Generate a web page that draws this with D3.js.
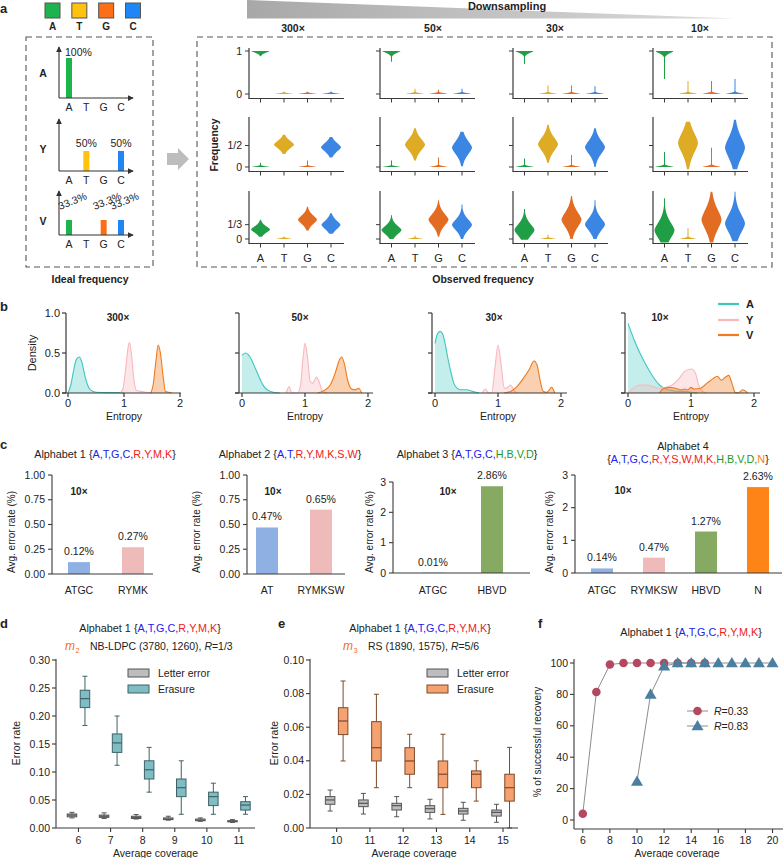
<!DOCTYPE html>
<html lang="en">
<head>
<meta charset="UTF-8">
<title>Degenerate base frequencies and error rates</title>
<script src="https://d3js.org/d3.v7.min.js"></script>
<style>
  body { margin: 0; background: #fff; }
  svg { display: block; font-family: "Liberation Sans", Arial, Helvetica, sans-serif; }
</style>
</head>
<body>
<svg id="fig" width="784" height="858"></svg>
<script>
// ---------------- data: panel a
const bases = ["A", "T", "G", "C"];
const coverages = ["300×", "50×", "30×", "10×"];
const idealRows = ["A", "Y", "V"];
const idealFreq = [[100, 0, 0, 0], [0, 50, 0, 50], [33.3, 0, 33.3, 33.3]];
const rowTickVals = [[0, 1], [0, 0.5], [0, 1 / 3]];
const rowTickText = [["0", "1"], ["0", "1/2"], ["0", "1/3"]];
// violin summaries per coverage, per base: [centre, spread, width, low, high]
const violinRowA = [
  [[1, 0.04, 0.9, 0.88, 1], [0, 0.015, 0.9, 0, 0.06], [0, 0.015, 0.9, 0, 0.05], [0, 0.015, 0.9, 0, 0.06]],
  [[1, 0.045, 0.9, 0.75, 1], [0, 0.018, 0.9, 0, 0.12], [0, 0.018, 0.9, 0, 0.1], [0, 0.018, 0.9, 0, 0.12]],
  [[1, 0.045, 0.9, 0.7, 1], [0, 0.018, 0.9, 0, 0.2], [0, 0.018, 0.9, 0, 0.2], [0, 0.018, 0.9, 0, 0.18]],
  [[1, 0.05, 0.9, 0.35, 1], [0, 0.02, 0.9, 0, 0.3], [0, 0.02, 0.9, 0, 0.3], [0, 0.02, 0.9, 0, 0.35]]
];
const violinRowY = [
  [[0, 0.015, 0.9, 0, 0.1], [0.52, 0.09, 1, 0.3, 0.75], [0, 0.015, 0.9, 0, 0.15], [0.46, 0.1, 1, 0.22, 0.7]],
  [[0, 0.015, 0.9, 0, 0.15], [0.52, 0.14, 1, 0.15, 0.9], [0, 0.018, 0.9, 0, 0.22], [0.45, 0.16, 1, 0.02, 0.82]],
  [[0, 0.018, 0.9, 0, 0.2], [0.53, 0.16, 1, 0.1, 0.98], [0, 0.018, 0.9, 0, 0.28], [0.46, 0.16, 1, 0, 0.9]],
  [[0, 0.02, 0.9, 0, 0.35], [0.56, 0.24, 1, -0.05, 1.05], [0, 0.02, 0.9, 0, 0.45], [0.45, 0.25, 1, -0.05, 1.1]]
];
const violinRowV = [
  [[0.22, 0.075, 0.95, 0.05, 0.45], [0, 0.015, 0.8, 0, 0.06], [0.45, 0.1, 0.95, 0.2, 0.75], [0.33, 0.1, 0.95, 0.12, 0.6]],
  [[0.21, 0.1, 1, 0, 0.55], [0, 0.015, 0.8, 0, 0.08], [0.45, 0.14, 1, 0.05, 0.9], [0.33, 0.13, 1, 0, 0.8]],
  [[0.21, 0.14, 1, -0.02, 0.7], [0, 0.015, 0.8, 0, 0.1], [0.45, 0.18, 1, 0, 1.0], [0.34, 0.15, 1, 0, 0.9]],
  [[0.2, 0.19, 1, -0.08, 0.95], [0, 0.02, 0.8, 0, 0.25], [0.45, 0.24, 1, -0.08, 1.1], [0.36, 0.22, 1, -0.05, 1.1]]
];

// ---------------- data: panel b  (entropy, density) for A, Y, V
const dens300 = [
  [[0, 0], [0.05, 0.1], [0.1, 0.28], [0.15, 0.42], [0.2, 0.45], [0.25, 0.38], [0.3, 0.22], [0.35, 0.1], [0.4, 0.04], [0.5, 0.01], [0.7, 0.005], [0.9, 0.005], [1.0, 0]],
  [[0.93, 0], [0.98, 0.05], [1.03, 0.3], [1.08, 0.6], [1.1, 0.63], [1.13, 0.5], [1.18, 0.15], [1.22, 0.03], [1.3, 0.02], [1.4, 0.01], [1.5, 0]],
  [[1.48, 0], [1.52, 0.1], [1.57, 0.4], [1.61, 0.6], [1.65, 0.5], [1.7, 0.2], [1.74, 0.02], [1.8, 0.01], [1.85, 0]]
];
const dens50 = [
  [[0, 0.47], [0.05, 0.5], [0.1, 0.48], [0.15, 0.42], [0.2, 0.33], [0.25, 0.24], [0.3, 0.15], [0.35, 0.08], [0.4, 0.04], [0.5, 0.01], [0.6, 0]],
  [[0.7, 0], [0.75, 0.08], [0.79, 0], [0.88, 0], [0.93, 0.1], [0.97, 0.45], [1.0, 0.62], [1.04, 0.45], [1.08, 0.15], [1.12, 0.12], [1.18, 0.2], [1.22, 0.15], [1.28, 0.02], [1.35, 0]],
  [[1.2, 0], [1.3, 0.03], [1.4, 0.1], [1.48, 0.25], [1.54, 0.4], [1.58, 0.45], [1.62, 0.38], [1.68, 0.15], [1.74, 0.05], [1.8, 0.04], [1.85, 0.06], [1.9, 0]]
];
const dens30 = [
  [[0, 0.62], [0.04, 0.74], [0.08, 0.77], [0.12, 0.74], [0.16, 0.62], [0.2, 0.45], [0.25, 0.27], [0.3, 0.12], [0.35, 0.06], [0.4, 0.04], [0.5, 0.04], [0.6, 0.02], [0.7, 0]],
  [[0.75, 0], [0.8, 0.05], [0.85, 0], [0.9, 0], [0.95, 0.3], [1.0, 0.6], [1.05, 0.35], [1.1, 0.06], [1.15, 0.07], [1.2, 0.1], [1.25, 0.04], [1.3, 0]],
  [[1.1, 0], [1.2, 0.02], [1.3, 0.08], [1.4, 0.18], [1.5, 0.3], [1.57, 0.4], [1.62, 0.35], [1.67, 0.15], [1.72, 0.02], [1.78, 0.01], [1.85, 0.07], [1.9, 0]]
];
const dens10 = [
  [[0, 0.87], [0.1, 0.66], [0.2, 0.48], [0.3, 0.33], [0.4, 0.2], [0.5, 0.1], [0.6, 0.05], [0.7, 0.03], [0.8, 0.02], [0.9, 0.02], [1.0, 0.01], [1.1, 0]],
  [[0, 0], [0.1, 0.07], [0.2, 0.1], [0.3, 0.1], [0.4, 0.08], [0.5, 0.06], [0.6, 0.07], [0.7, 0.1], [0.8, 0.17], [0.9, 0.27], [1.0, 0.3], [1.07, 0.25], [1.12, 0.1], [1.18, 0.02], [1.25, 0]],
  [[0.5, 0], [0.55, 0.05], [0.65, 0.07], [0.75, 0.06], [0.85, 0.04], [0.9, 0.05], [0.95, 0.04], [1.0, 0.07], [1.05, 0.05], [1.15, 0.06], [1.25, 0.12], [1.35, 0.18], [1.42, 0.21], [1.48, 0.16], [1.55, 0.2], [1.6, 0.22], [1.65, 0.12], [1.7, 0.01], [1.75, 0], [1.82, 0.04], [1.9, 0]]
];
const densLetters = ["A", "Y", "V"];

// ---------------- data: panel c
const alphabet1 = ["A", "T", "G", "C", "R", "Y", "M", "K"], alphabet1Groups = [0, 0, 0, 0, 1, 1, 1, 1];
const alphabet2 = ["A", "T", "R", "Y", "M", "K", "S", "W"], alphabet2Groups = [0, 0, 1, 1, 1, 1, 1, 1];
const alphabet3 = ["A", "T", "G", "C", "H", "B", "V", "D"], alphabet3Groups = [0, 0, 0, 0, 2, 2, 2, 2];
const alphabet4 = ["A", "T", "G", "C", "R", "Y", "S", "W", "M", "K", "H", "B", "V", "D", "N"];
const alphabet4Groups = [0, 0, 0, 0, 1, 1, 1, 1, 1, 1, 2, 2, 2, 2, 3];
const c1Cats = ["ATGC", "RYMK"], c1Vals = [0.12, 0.27];
const c2Cats = ["AT", "RYMKSW"], c2Vals = [0.47, 0.65];
const c3Cats = ["ATGC", "HBVD"], c3Vals = [0.01, 2.86];
const c4Cats = ["ATGC", "RYMKSW", "HBVD", "N"], c4Vals = [0.14, 0.47, 1.27, 2.63];

// ---------------- data: panels d, e  box stats [low, q1, median, q3, high]
const dCoverage = [6, 7, 8, 9, 10, 11];
const dLetter = [[0.018, 0.020, 0.023, 0.025, 0.028], [0.017, 0.019, 0.021, 0.023, 0.027], [0.016, 0.017, 0.019, 0.021, 0.024],
  [0.014, 0.015, 0.016, 0.018, 0.021], [0.012, 0.013, 0.014, 0.016, 0.018], [0.010, 0.011, 0.012, 0.013, 0.015]];
const dErasure = [[0.183, 0.215, 0.231, 0.246, 0.271], [0.112, 0.135, 0.152, 0.168, 0.2], [0.064, 0.0875, 0.104, 0.12, 0.144],
  [0.0245, 0.056, 0.072, 0.0875, 0.12], [0.0245, 0.040, 0.056, 0.064, 0.08], [0.0245, 0.032, 0.041, 0.047, 0.056]];
const eCoverage = [10, 11, 12, 13, 14, 15];
const eLetter = [[0.0101, 0.0141, 0.0167, 0.0187, 0.0226], [0.0083, 0.0127, 0.0147, 0.0167, 0.0206], [0.0067, 0.0107, 0.0133, 0.0147, 0.0187],
  [0.0054, 0.0093, 0.0115, 0.0133, 0.0171], [0.0046, 0.0083, 0.0101, 0.0117, 0.0153], [0.0034, 0.0071, 0.0093, 0.0107, 0.0141]];
const eErasure = [[0.0399, 0.0556, 0.0637, 0.0716, 0.0875], [0.024, 0.0399, 0.0478, 0.0633, 0.0796], [0.024, 0.032, 0.0399, 0.0478, 0.0558],
  [0.0081, 0.024, 0.032, 0.0399, 0.0558], [0.016, 0.024, 0.032, 0.034, 0.04], [0.0, 0.016, 0.024, 0.032, 0.048]];

// ---------------- data: panel f
const fCoverage033 = [6, 7, 8, 9, 10, 11, 12, 13, 14, 15];
const fRecovery033 = [4, 81.5, 99, 100, 100, 100, 100, 100, 100, 100];
const fCoverage083 = [10, 11, 12, 13, 14, 15, 16, 17, 18, 19, 20];
const fRecovery083 = [24.5, 80, 98, 100, 100, 100, 100, 100, 100, 100, 100];

// ---------------- helpers
const svg = d3.select("#fig");
const ink = "#222", axisInk = "#3a3a3a";

function label(g, x, y, s, o = {}) {
  const t = g.append("text").attr("x", x).attr("y", y)
    .attr("font-size", o.size || 10)
    .attr("fill", o.fill || ink)
    .attr("text-anchor", o.anchor || "start")
    .text(s);
  if (o.bold) t.attr("font-weight", "bold");
  if (o.italic) t.attr("font-style", "italic");
  if (o.rotate) t.attr("transform", `rotate(${o.rotate},${x},${y})`);
  return t;
}
function line(g, x1, y1, x2, y2, stroke = axisInk, w = 1) {
  return g.append("line").attr("x1", x1).attr("y1", y1).attr("x2", x2).attr("y2", y2)
    .attr("stroke", stroke).attr("stroke-width", w);
}
const groupColor = ["#2020ee", "#ee2020", "#22982a", "#ff7a12"];
function alphabetTitle(g, x, y, prefix, letters, groups) {
  const t = g.append("text").attr("x", x).attr("y", y).attr("text-anchor", "middle")
    .attr("font-size", 10.8).attr("fill", ink);
  t.append("tspan").text(prefix ? prefix + " {" : "{");
  letters.forEach((l, i) => {
    if (i > 0) t.append("tspan").attr("fill", groupColor[groups[i - 1]]).text(",");
    t.append("tspan").attr("fill", groupColor[groups[i]]).text(l);
  });
  t.append("tspan").text("}");
}

// ================= panel a
const baseColor = d3.scaleOrdinal().domain(bases).range(["#1db54b", "#ffc20e", "#fb7016", "#2186f5"]);
const violinColor = d3.scaleOrdinal().domain(bases).range(["#1f9e45", "#ddab24", "#e26c22", "#3b86e2"]);

label(svg, 0, 13, "a", { size: 13, bold: true });
const sqX = d3.scalePoint().domain(bases).range([52.5, 133]);
bases.forEach(b => {
  svg.append("rect").attr("x", sqX(b) - 7.5).attr("y", 3).attr("width", 15).attr("height", 15)
    .attr("fill", baseColor(b)).attr("stroke", "#555").attr("stroke-width", 1);
  label(svg, sqX(b), 30, b, { bold: true, anchor: "middle" });
});

// dashed frames
[[26, 37, 127, 230], [197, 37, 575, 230]].forEach(([x, y, w, h]) => {
  svg.append("rect").attr("x", x).attr("y", y).attr("width", w).attr("height", h)
    .attr("fill", "none").attr("stroke", "#555").attr("stroke-width", 1.1).attr("stroke-dasharray", "6,4");
});
label(svg, 90, 283, "Ideal frequency", { anchor: "middle", bold: true, size: 10.5 });
label(svg, 483, 283, "Observed frequency", { anchor: "middle", bold: true, size: 10.5 });

// grey arrow between the frames
svg.append("polygon").attr("points", "167,153 178,153 178,148 189,159 178,170 178,165 167,165").attr("fill", "#bdbdbd");

// downsampling wedge
const grad = svg.append("defs").append("linearGradient").attr("id", "wedge");
grad.append("stop").attr("offset", "0%").attr("stop-color", "#a8a8a8");
grad.append("stop").attr("offset", "100%").attr("stop-color", "#dcdcdc");
svg.append("polygon").attr("points", "247,0 735,18.5 247,18.5").attr("fill", "url(#wedge)");
label(svg, 507, 10, "Downsampling", { anchor: "middle", bold: true, size: 11 });

// arrow marker for the ideal charts
svg.select("defs").append("marker").attr("id", "arr").attr("viewBox", "0 0 8 8")
  .attr("refX", 7).attr("refY", 4).attr("markerWidth", 6).attr("markerHeight", 6)
  .attr("markerUnits", "userSpaceOnUse").attr("orient", "auto")
  .append("path").attr("d", "M0,0 L8,4 L0,8 Z").attr("fill", "#333");

// ideal frequency mini charts
const idealBase = [98, 171, 235], idealTop = [47, 119, 191], idealBarH = [40, 20, 15];
const idealX = d3.scalePoint().domain(bases).range([69, 121]);
const rowLabelY = [77, 153, 225];
idealRows.forEach((r, i) => {
  const g = svg.append("g");
  const y = d3.scaleLinear().domain([0, idealFreq[i].find(v => v > 0)]).range([idealBase[i], idealBase[i] - idealBarH[i]]);
  label(g, 43, rowLabelY[i], r, { bold: true, size: 10.5, anchor: "middle" });
  bases.forEach((b, j) => {
    const v = idealFreq[i][j];
    if (v > 0) {
      g.append("rect").attr("x", idealX(b) - 3).attr("width", 6)
        .attr("y", y(v)).attr("height", idealBase[i] - y(v)).attr("fill", baseColor(b));
      if (i === 0) label(g, idealX(b) - 4, y(v) - 2, v + "%", { size: 10.5 });
      else if (i === 1) label(g, idealX(b), y(v) - 4, v + "%", { size: 10.5, anchor: "middle" });
      else label(g, idealX(b) - 9, y(v) - 10, v + "%", { size: 10.5, rotate: -22 });
    }
    label(g, idealX(b), idealBase[i] + 13, b, { size: 10.5, anchor: "middle" });
  });
  line(g, 59, idealBase[i], 59, idealTop[i], "#333", 1.1).attr("marker-end", "url(#arr)");
  line(g, 59, idealBase[i], 133, idealBase[i], "#333", 1.1).attr("marker-end", "url(#arr)");
});

// observed violins
const vAxisX = [249, 380, 513, 653];
const vZeroY = [94, 167, 239];
const vTopY = [48, 117, 191];
const vUnit = 43, vHalf = 10;
const colLabelX = [293, 433, 555, 700];
const violinRows = [violinRowA, violinRowY, violinRowV];

coverages.forEach((c, k) => label(svg, colLabelX[k], 32, c, { bold: true, anchor: "middle", size: 10.5 }));
label(svg, 218, 145, "Frequency", { bold: true, anchor: "middle", size: 10.5, rotate: -90 });

function violinProfile(p) {
  const [c, sd, w, lo, hi] = p;
  return d3.range(81).map(i => {
    const v = lo + (hi - lo) * i / 80;
    const z = Math.abs(v - c) / sd;
    return { v, w: Math.max(w * Math.exp(-0.5 * Math.pow(z, 1.6)), 0.05) };
  });
}

violinRows.forEach((rowData, r) => {
  coverages.forEach((cov, k) => {
    const g = svg.append("g");
    const ax = vAxisX[k];
    const baseY = vZeroY[r] + 4.5;
    const x = d3.scalePoint().domain(bases).range([ax + 11.5, ax + 11.5 + 3 * 23.5]);
    const y = d3.scaleLinear().domain([0, 1]).range([vZeroY[r], vZeroY[r] - vUnit]);
    const area = d3.area().curve(d3.curveBasis).y(d => y(d.v));
    bases.forEach((b, j) => {
      const prof = violinProfile(rowData[k][j]);
      g.append("path").datum(prof)
        .attr("d", area.x0(d => x(b) - d.w * vHalf).x1(d => x(b) + d.w * vHalf))
        .attr("fill", violinColor(b));
      line(g, x(b), baseY, x(b), baseY + 4, axisInk, 1);
      if (r === 2) label(g, x(b), 262, b, { anchor: "middle", size: 11 });
    });
    line(g, ax, baseY, ax, vTopY[r], axisInk, 1.2);
    line(g, ax - 0.6, baseY, ax + 95, baseY, axisInk, 1.2);
    rowTickVals[r].forEach((v, t) => {
      line(g, ax - 4, y(v), ax, y(v), axisInk, 1);
      if (k === 0) label(g, ax - 7, y(v) + 3.5, rowTickText[r][t], { anchor: "end", size: 10.5 });
    });
  });
});

// ================= panel b
label(svg, 0, 311, "b", { size: 13, bold: true });
const densCov = [dens300, dens50, dens30, dens10];
const bAxisX = [66, 239, 432, 625], bZeroX = [68, 242, 435, 628], bUnit = [56, 63, 63, 63], bEndX = [181, 373, 567, 760];
const bLabelX = [118, 300, 494, 660];
const bY = d3.scaleLinear().domain([0, 1]).range([393, 313]);
const densColor = ["#3cc6bf", "#f8b8be", "#f07a1c"];
const densFillOpacity = [0.3, 0.35, 0.35];

densCov.forEach((set, k) => {
  const g = svg.append("g");
  const x = d3.scaleLinear().domain([0, 2]).range([bZeroX[k], bZeroX[k] + 2 * bUnit[k]]);
  const area = d3.area().curve(d3.curveMonotoneX).x(d => x(d[0])).y0(bY(0)).y1(d => bY(d[1]));
  const ln = d3.line().curve(d3.curveMonotoneX).x(d => x(d[0])).y(d => bY(d[1]));
  set.forEach((pts, j) => {
    g.append("path").datum(pts).attr("d", area).attr("fill", densColor[j]).attr("fill-opacity", densFillOpacity[j]);
    g.append("path").datum(pts).attr("d", ln).attr("fill", "none").attr("stroke", densColor[j]).attr("stroke-width", 1.1);
  });
  line(g, bAxisX[k], bY(0), bAxisX[k], bY(1), axisInk, 1.2);
  line(g, bAxisX[k] - 4, bY(0), bEndX[k], bY(0), axisInk, 1.2);
  [0, 0.5, 1].forEach(v => {
    line(g, bAxisX[k] - 4, bY(v), bAxisX[k], bY(v), axisInk, 1.2);
    if (k === 0) label(g, bAxisX[k] - 6, bY(v) + 4, d3.format(".1f")(v), { anchor: "end", size: 11 });
  });
  [0, 1, 2].forEach(v => {
    line(g, x(v), bY(0), x(v), bY(0) + 4, axisInk, 1.2);
    label(g, x(v), 407, String(v), { anchor: "middle", size: 11 });
  });
  label(g, x(1), 420, "Entropy", { anchor: "middle", size: 10.5 });
  label(g, bLabelX[k], 321, coverages[k], { anchor: "middle", bold: true, size: 10 });
});
label(svg, 36, 353, "Density", { anchor: "middle", size: 11, rotate: -90 });
densLetters.forEach((l, j) => {
  const yy = [304, 320, 335][j];
  line(svg, 718, yy, 739, yy, densColor[j], 2.2);
  label(svg, 746, yy + 4, l, { bold: true, size: 11 });
});

// ================= panel c
label(svg, 0, 449, "c", { size: 13, bold: true });
const catColor = { ATGC: "#8eb0e3", AT: "#8eb0e3", RYMK: "#efbaba", RYMKSW: "#efbaba", HBVD: "#86aa62", N: "#ff8418" };
const cCharts = [
  { cats: c1Cats, vals: c1Vals, max: 1, ticks: [0, 0.25, 0.5, 0.75, 1], fmt: ".2f", ax: 52, top: 475, zero: 574, c0: 79, c1: 133, end: 153, ylab: 15, tag: [79, 495] },
  { cats: c2Cats, vals: c2Vals, max: 1, ticks: [0, 0.25, 0.5, 0.75, 1], fmt: ".2f", ax: 247, top: 475, zero: 574, c0: 267, c1: 321, end: 345, ylab: 200, tag: [273, 495] },
  { cats: c3Cats, vals: c3Vals, max: 3, ticks: [0, 1, 2, 3], fmt: "d", ax: 393, top: 482, zero: 573, c0: 433, c1: 492, end: 530, ylab: 373, tag: [448, 495] },
  { cats: c4Cats, vals: c4Vals, max: 3, ticks: [0, 1, 2, 3], fmt: "d", ax: 575, top: 475, zero: 573, c0: 602, c1: 758, end: 782, ylab: 553, tag: [623, 494] }
];
alphabetTitle(svg, 105, 458, "Alphabet 1", alphabet1, alphabet1Groups);
alphabetTitle(svg, 290, 458, "Alphabet 2", alphabet2, alphabet2Groups);
alphabetTitle(svg, 467, 458, "Alphabet 3", alphabet3, alphabet3Groups);
label(svg, 683, 450, "Alphabet 4", { anchor: "middle", size: 10.8 });
alphabetTitle(svg, 688, 463, "", alphabet4, alphabet4Groups);

cCharts.forEach(ch => {
  const g = svg.append("g");
  const y = d3.scaleLinear().domain([0, ch.max]).range([ch.zero, ch.top]);
  const x = d3.scalePoint().domain(ch.cats).range([ch.c0, ch.c1]);
  ch.cats.forEach((c, i) => {
    const v = ch.vals[i];
    g.append("rect").attr("x", x(c) - 11).attr("width", 22).attr("y", y(v)).attr("height", ch.zero - y(v))
      .attr("fill", catColor[c]);
    label(g, x(c), y(v) - 7, d3.format(".2f")(v) + "%", { anchor: "middle", size: 10.5 });
    label(g, x(c), 594, c, { anchor: "middle", size: 10.5 });
  });
  line(g, ch.ax, ch.zero, ch.ax, ch.top, axisInk, 1.1);
  line(g, ch.ax, ch.zero, ch.end, ch.zero, axisInk, 1.1);
  ch.ticks.forEach(v => {
    line(g, ch.ax - 4, y(v), ch.ax, y(v), axisInk, 1.1);
    label(g, ch.ax - 7, y(v) + 3.5, d3.format(ch.fmt)(v), { anchor: "end", size: 10.5 });
  });
  label(g, ch.tag[0], ch.tag[1], "10×", { anchor: "middle", bold: true, size: 10 });
  label(g, ch.ylab, 532, "Avg. error rate (%)", { anchor: "middle", size: 10, rotate: -90 });
});

// ================= panels d and e
function codeLine(g, x, y, sub, text, rText) {
  label(g, x, y, "m", { italic: true, size: 12, fill: "#f07020" });
  label(g, x + 10.5, y + 2.5, sub, { size: 7.5, fill: "#f07020" });
  const t = label(g, x + 25, y, text, { size: 10.5 });
  t.append("tspan").attr("font-style", "italic").text("R");
  t.append("tspan").text(rText);
}

function boxPanel(opt) {
  const g = svg.append("g");
  const x = d3.scaleLinear().domain(opt.xDomain).range([opt.ax, opt.end]);
  const y = d3.scaleLinear().domain([0, opt.yMax]).range([828, 660]);
  const drawBoxes = (stats, off, fill, stroke) => {
    opt.cov.forEach((c, i) => {
      const [lo, q1, md, q3, hi] = stats[i];
      const cx = x(c) + off, w = 9.5;
      line(g, cx, y(lo), cx, y(hi), stroke, 1);
      line(g, cx - 2.5, y(lo), cx + 2.5, y(lo), stroke, 1);
      line(g, cx - 2.5, y(hi), cx + 2.5, y(hi), stroke, 1);
      g.append("rect").attr("x", cx - w / 2).attr("width", w).attr("y", y(q3)).attr("height", y(q1) - y(q3))
        .attr("fill", fill).attr("stroke", stroke).attr("stroke-width", 1);
      line(g, cx - w / 2, y(md), cx + w / 2, y(md), stroke, 1.2);
    });
  };
  drawBoxes(opt.letter, -6.5, "#bdbdbd", "#555");
  drawBoxes(opt.erasure, 6.5, opt.fill, opt.stroke);
  line(g, opt.ax, 828, opt.ax, 659, axisInk, 1.1);
  line(g, opt.ax, 828, opt.end, 828, axisInk, 1.1);
  opt.yTicks.forEach(v => {
    line(g, opt.ax - 4, y(v), opt.ax, y(v), axisInk, 1.1);
    label(g, opt.ax - 6, y(v) + 3.5, d3.format(".2f")(v), { anchor: "end", size: 10.5 });
  });
  opt.cov.forEach(c => {
    line(g, x(c), 828, x(c), 832, axisInk, 1.1);
    label(g, x(c), 844, String(c), { anchor: "middle", size: 10.5 });
  });
  label(g, (opt.ax + opt.end) / 2, 857, "Average coverage", { anchor: "middle", size: 10.5 });
  label(g, opt.ylab, 743, "Error rate", { anchor: "middle", size: 10.5, rotate: -90 });
  // legend
  [["Letter error", "#bdbdbd", "#555"], ["Erasure", opt.fill, opt.stroke]].forEach(([t, f, s], i) => {
    const yy = 673 + i * 16;
    g.append("rect").attr("x", opt.legX).attr("y", yy - 4).attr("width", 21).attr("height", 8)
      .attr("fill", f).attr("stroke", s).attr("stroke-width", 1);
    label(g, opt.legX + 30, yy + 4, t, { size: 10.5 });
  });
}

label(svg, 0, 628, "d", { size: 13, bold: true });
alphabetTitle(svg, 150, 632, "Alphabet 1", alphabet1, alphabet1Groups);
codeLine(svg, 65, 650, "2", "NB-LDPC (3780, 1260), ", "=1/3");
boxPanel({ cov: dCoverage, letter: dLetter, erasure: dErasure, xDomain: [5.3, 11.5], ax: 56, end: 255, yMax: 0.3,
  yTicks: [0, 0.05, 0.1, 0.15, 0.2, 0.25, 0.3], fill: "#7fbcc4", stroke: "#3e6266", ylab: 20, legX: 128 });

label(svg, 278, 628, "e", { size: 13, bold: true });
alphabetTitle(svg, 420, 632, "Alphabet 1", alphabet1, alphabet1Groups);
codeLine(svg, 343, 650, "3", "RS (1890, 1575), ", "=5/6");
boxPanel({ cov: eCoverage, letter: eLetter, erasure: eErasure, xDomain: [9.2, 15.45], ax: 310, end: 518, yMax: 0.1,
  yTicks: [0, 0.02, 0.04, 0.06, 0.08, 0.1], fill: "#f5a170", stroke: "#7d4a2c", ylab: 278, legX: 427 });

// ================= panel f
label(svg, 538, 628, "f", { size: 13, bold: true });
alphabetTitle(svg, 691, 636, "Alphabet 1", alphabet1, alphabet1Groups);
{
  const g = svg.append("g");
  const x = d3.scaleLinear().domain([5.35, 20.7]).range([574, 782]);
  const y = d3.scaleLinear().domain([0, 100]).range([820, 663]);
  const ln = d3.line().x(d => x(d[0])).y(d => y(d[1]));
  const s033 = fCoverage033.map((c, i) => [c, fRecovery033[i]]);
  const s083 = fCoverage083.map((c, i) => [c, fRecovery083[i]]);
  g.append("path").datum(s033).attr("d", ln).attr("fill", "none").attr("stroke", "#8c8c8c").attr("stroke-width", 1);
  g.append("path").datum(s083).attr("d", ln).attr("fill", "none").attr("stroke", "#8c8c8c").attr("stroke-width", 1);
  const circ = "#b5485e", tri = "#4a7fa0";
  g.selectAll("circle.r033").data(s033).join("circle").attr("cx", d => x(d[0])).attr("cy", d => y(d[1]))
    .attr("r", 4.3).attr("fill", circ);
  const triSym = d3.symbol().type(d3.symbolTriangle).size(62);
  g.selectAll("path.r083").data(s083).join("path").attr("class", "r083")
    .attr("transform", d => `translate(${x(d[0])},${y(d[1]) + 0.8})`).attr("d", triSym).attr("fill", tri);
  line(g, 574, 829, 574, 659, axisInk, 1.1);
  line(g, 574, 829, 783, 829, axisInk, 1.1);
  [0, 20, 40, 60, 80, 100].forEach(v => {
    line(g, 570, y(v), 574, y(v), axisInk, 1.1);
    label(g, 568, y(v) + 3.5, String(v), { anchor: "end", size: 10.5 });
  });
  [6, 8, 10, 12, 14, 16, 18, 20].forEach(v => {
    line(g, x(v), 829, x(v), 833, axisInk, 1.1);
    label(g, x(v), 844, String(v), { anchor: "middle", size: 10.5 });
  });
  label(g, 677, 857, "Average coverage", { anchor: "middle", size: 10.5 });
  label(g, 541, 742, "% of successful recovery", { anchor: "middle", size: 10, rotate: -90 });
  // legend
  line(g, 687, 711, 708, 711, "#8c8c8c", 1);
  g.append("circle").attr("cx", 697.5).attr("cy", 711).attr("r", 4.3).attr("fill", circ);
  line(g, 687, 726, 708, 726, "#8c8c8c", 1);
  g.append("path").attr("transform", "translate(697.5,726.8)").attr("d", triSym).attr("fill", tri);
  [["=0.33", 715], ["=0.83", 730]].forEach(([t, yy]) => {
    const tx = label(g, 714, yy, "", { size: 10.5 });
    tx.append("tspan").attr("font-style", "italic").text("R");
    tx.append("tspan").text(t);
  });
}
</script>
</body>
</html>
